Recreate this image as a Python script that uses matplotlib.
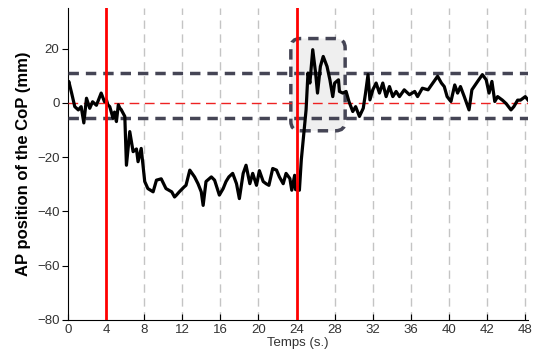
import matplotlib.pyplot as plt
from matplotlib.patches import FancyBboxPatch

# AP position of the centre of pressure
time_s = [0.0, 0.1, 0.4, 0.73, 1.1, 1.4, 1.68, 1.96, 2.3, 2.6, 3.0, 3.5, 3.85,
          4.05, 4.2, 4.4, 4.75, 4.9, 5.1, 5.3, 5.45, 5.6, 5.98, 6.15, 6.5, 6.85,
          7.2, 7.37, 7.7, 8.07, 8.4, 8.95, 9.3, 9.8, 10.3, 10.9, 11.2, 11.4, 11.7,
          12.2, 12.4, 12.8, 13.3, 13.66, 14.0, 14.2, 14.5, 15.06, 15.4, 15.9,
          16.3, 16.6, 16.9, 17.3, 17.7, 18.0, 18.4, 18.7, 19.1, 19.4, 19.8, 20.1,
          20.5, 20.8, 21.1, 21.5, 21.9, 22.2, 22.6, 22.9, 23.3, 23.5, 23.8, 23.9,
          24.3, 24.5, 24.7, 25.0, 25.2, 25.4, 25.7, 26.0, 26.2, 26.5, 26.8, 27.2,
          27.5, 27.8, 28.0, 28.4, 28.5, 28.85, 29.2, 29.5, 29.9, 30.2, 30.6, 31.0,
          31.24, 31.5, 31.7, 32.0, 32.35, 32.7, 33.05, 33.4, 33.75, 34.1, 34.45,
          34.8, 35.3, 35.85, 36.4, 36.7, 37.2, 37.8, 38.3, 38.65, 38.8, 39.2,
          39.5, 39.8, 40.2, 40.6, 40.9, 41.2, 41.6, 42.1, 42.4, 43.0, 43.5, 43.9,
          44.2, 44.5, 44.8, 45.1, 45.6, 46.0, 46.5, 46.8, 47.2, 47.5, 48.0, 48.3]
cop_ap = [6.0, 7.9, 3.6, -1.4, -2.6, -1.4, -7.4, 1.7, -2.0, 0.4, -0.9, 3.6, 0.4,
          1.1, -0.7, -1.4, -5.7, -3.4, -6.9, -0.7, -1.9, -2.5, -5.0, -23.0, -10.6,
          -18.0, -17.0, -21.7, -16.8, -29.0, -31.6, -32.8, -28.5, -28.0, -31.6,
          -32.8, -34.7, -34.0, -32.8, -31.0, -30.4, -24.8, -27.3, -29.8, -32.8,
          -37.8, -29.0, -27.3, -28.5, -34.0, -31.6, -29.0, -27.3, -26.0, -29.8,
          -35.3, -26.0, -23.0, -29.8, -26.0, -30.4, -25.0, -29.0, -29.8, -30.4,
          -24.2, -24.8, -27.3, -29.8, -26.0, -27.9, -32.2, -26.7, -32.0, -32.2,
          -21.0, -13.7, -2.6, 11.0, 7.3, 19.6, 11.0, 3.6, 13.4, 17.1, 13.4, 8.5,
          2.3, 7.3, 8.5, 4.2, 3.6, 4.2, 0.5, -3.2, -1.4, -5.0, -2.0, 3.6, 10.4,
          1.1, 4.8, 7.3, 3.6, 7.3, 2.3, 6.0, 2.3, 4.2, 2.3, 4.8, 3.0, 4.2, 2.3,
          5.4, 4.8, 7.3, 9.0, 9.8, 7.3, 6.0, 2.3, 0.5, 6.6, 3.6, 6.0, 2.3, -2.6,
          4.8, 7.9, 10.4, 8.5, 3.6, 7.9, 0.5, 2.3, 1.0, -0.3, -2.6, -1.4, 1.0,
          1.0, 2.3, 1.0]

tick_pos = [0, 4, 8, 12, 16, 20, 24, 28, 32, 36, 40, 44, 48]
tick_labels = ['0', '4', '8', '12', '16', '20', '24', '28', '32', '36', '40', '42', '48']
grid_pos = [8, 12, 16, 20, 28, 32, 36, 40, 44, 48]
event_times = [4, 24]
band_low, band_high = -5.6, 11.0
box_x, box_y, box_w, box_h = 23.4, -10.3, 5.7, 34.0

plt.rcParams['font.family'] = ['Liberation Sans', 'DejaVu Sans']
fig = plt.figure(figsize=(5.34, 3.59), dpi=100)
ax = fig.add_axes([0.127, 0.109, 0.862, 0.869])

for g in grid_pos:
    ax.axvline(g, color='#c4c4c4', lw=1.0, dashes=(6, 4), zorder=1)

box = FancyBboxPatch((box_x, box_y), box_w, box_h,
                     boxstyle='round,pad=0,rounding_size=1.0',
                     mutation_aspect=3.5, facecolor='#efefef',
                     edgecolor='#454555', lw=2.5, linestyle=(0, (3, 2)), zorder=2)
ax.add_patch(box)

ax.axhline(0, color='#ee2222', lw=1.0, dashes=(7, 4), zorder=3)
for b in (band_low, band_high):
    ax.axhline(b, color='#454555', lw=2.5, dashes=(3, 2), zorder=3)

ax.plot(time_s, cop_ap, color='black', lw=2.3, zorder=4)

for t in event_times:
    ax.axvline(t, color='#ff0000', lw=2.0, zorder=5)

ax.set_xlim(0, 48.3)
ax.set_ylim(-80, 35)
ax.set_xticks(tick_pos)
ax.set_xticklabels(tick_labels)
ax.set_yticks([20, 0, -20, -40, -60, -80])
ax.tick_params(axis='x', direction='in', length=4, labelsize=9.5, labelcolor='#333333', pad=3)
ax.tick_params(axis='y', direction='out', length=4, labelsize=9.5, labelcolor='#333333', pad=2)
ax.spines['top'].set_visible(False)
ax.spines['right'].set_visible(False)
ax.set_xlabel('Temps (s.)', fontsize=9.5, color='#333333', labelpad=1)
ax.set_ylabel('AP position of the CoP (mm)', fontsize=12, fontweight='bold', labelpad=4)

fig.savefig('out.png', dpi=100)
